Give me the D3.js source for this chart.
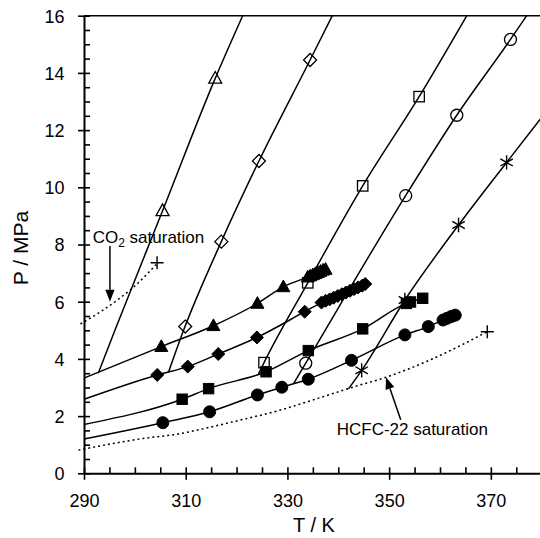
<!DOCTYPE html>
<html><head><meta charset="utf-8">
<script src="https://cdn.jsdelivr.net/npm/d3@7"></script>
<style>body{margin:0;background:#fff}</style>
</head><body>
<svg id="c" width="540" height="538"></svg>
<script>
// ---------- data (T / K, P / MPa) ----------
const xTicks = [290, 310, 330, 350, 370];
const xMinor = [295,300,305,315,320,325,335,340,345,355,360,365,375];
const yTicks = [0, 2, 4, 6, 8, 10, 12, 14, 16];
const yMinor = [0.5,1,1.5,2.5,3,3.5,4.5,5,5.5,6.5,7,7.5,8.5,9,9.5,10.5,11,11.5,12.5,13,13.5,14.5,15,15.5];

// steep (isochoric) lines and open markers
const openTriLine = [[292.8,3.50],[296.1,5.01],[305.45,9.18],[315.8,13.81],[321.2,16]];
const openTriPts  = [[305.45,9.18],[315.8,13.81]];
const openDiaLine = [[306.6,3.53],[309.6,5.01],[317.0,8.10],[324.4,10.92],[334.46,14.45],[338.83,16]];
const openDiaPts  = [[309.9,5.13],[317.0,8.10],[324.4,10.92],[334.46,14.45]];
const openSqLine  = [[324.3,3.47],[325.4,3.87],[334.0,6.66],[344.8,10.05],[355.9,13.17],[365.26,16]];
const openSqPts   = [[325.4,3.87],[334.0,6.66],[344.8,10.05],[355.9,13.17]];
const openCirLine = [[331.2,3.13],[333.6,3.85],[353.25,9.71],[363.3,12.52],[373.86,15.17],[377.06,16]];
const openCirPts  = [[333.6,3.85],[353.25,9.71],[363.3,12.52],[373.86,15.17]];
const starLine    = [[342.0,2.95],[344.6,3.60],[353.1,6.06],[363.65,8.68],[373.1,10.87],[382,12.9]];
const starPts     = [[344.6,3.60],[353.1,6.06],[363.65,8.68],[373.1,10.87]];

// flatter lines and filled markers
const fTriLine = [[290,3.33],[305.2,4.43],[315.45,5.16],[324.1,5.94],[329.2,6.52],[334.0,6.86],[337.5,7.13]];
const fTriPts  = [[305.2,4.43],[315.45,5.16],[324.1,5.94],[329.2,6.52],[334.0,6.86],[334.5,6.90],[335.0,6.94],[335.5,6.98],[336.0,7.02],[336.5,7.06],[337.0,7.10],[337.5,7.13]];
const fDiaLine = [[290,2.59],[304.4,3.44],[310.4,3.73],[316.4,4.17],[324.0,4.75],[333.4,5.65],[336.7,5.97],[345.3,6.62]];
const fDiaPts  = [[304.4,3.44],[310.4,3.73],[316.4,4.17],[324.0,4.75],[333.4,5.65],[336.7,5.97],[337.5,6.03],[338.3,6.08],[339.1,6.14],[339.9,6.20],[340.7,6.26],[341.5,6.32],[342.3,6.38],[343.1,6.44],[343.9,6.50],[344.7,6.56],[345.3,6.62]];
const fSqLine  = [[290,1.71],[309.3,2.59],[314.5,2.96],[325.8,3.55],[334.1,4.29],[344.8,5.05],[353.4,5.94],[354.2,5.99],[356.6,6.12]];
const fSqPts   = [[309.3,2.59],[314.5,2.96],[325.8,3.55],[334.1,4.29],[344.8,5.05],[353.4,5.94],[354.2,5.99],[356.6,6.12]];
const fCirLine = [[290,1.20],[305.5,1.77],[314.7,2.15],[324.1,2.74],[328.9,3.01],[334.1,3.29],[342.6,3.95],[353.1,4.84],[357.7,5.13],[360.6,5.36],[363.0,5.53]];
const fCirPts  = [[305.5,1.77],[314.7,2.15],[324.1,2.74],[328.9,3.01],[334.1,3.29],[342.6,3.95],[353.1,4.84],[357.7,5.13],[360.6,5.36],[361.4,5.42],[362.2,5.48],[363.0,5.53]];

// saturation curves (dotted)
const hcfcSat = [[288.9,0.81],[301,1.20],[309,1.39],[313,1.54],[320,1.83],[328.6,2.21],[336,2.62],[344.3,3.09],[348.2,3.29],[358,3.96],[369.3,4.95]];
const hcfcEnd = [369.3,4.95];
const co2Sat  = [[289.3,5.22],[293,5.62],[296.5,6.05],[300,6.55],[304.2,7.30]];
const co2End  = [304.37,7.36];

// annotation arrows [tail, tip]
const co2Arrow  = [[295.1,7.95],[295.1,6.00]];
const hcfcArrow = [[352.28,1.87],[349.39,3.36]];

// ---------- drawing ----------
const svg = d3.select("#c");
const FONT = "'Liberation Sans', Arial, Helvetica, sans-serif";
const x = d3.scaleLinear().domain([290, 380]).range([84, 541.7]);
const y = d3.scaleLinear().domain([0, 16]).range([473.3, 15.7]);

svg.append("defs").append("clipPath").attr("id","clip")
  .append("rect").attr("x",0).attr("y",y(16)).attr("width",541.7).attr("height",y(0)-y(16));

// top border
svg.append("line").attr("x1",x(290)).attr("x2",x(380)).attr("y1",y(16)).attr("y2",y(16))
  .attr("stroke","#000").attr("stroke-width",1.5);

// x axis
const gx = svg.append("g").attr("transform",`translate(0,${y(0)})`);
gx.call(d3.axisBottom(x).tickValues(xTicks).tickSizeInner(6.5).tickSizeOuter(0).tickPadding(0));
gx.append("g").call(d3.axisBottom(x).tickValues(xTicks.concat(xMinor)).tickSizeInner(-6).tickSizeOuter(0).tickFormat(""))
  .select(".domain").remove();
gx.selectAll(".domain").attr("stroke-width",2);
gx.selectAll(".tick line").attr("stroke-width",1.6);
gx.selectAll("text").attr("y",33.4).attr("dy",0).attr("font-size",18).attr("font-family",FONT).attr("fill","#000");

// y axis
const gy = svg.append("g").attr("transform",`translate(${x(290)},0)`);
gy.call(d3.axisLeft(y).tickValues(yTicks).tickSizeInner(6).tickSizeOuter(0).tickPadding(0));
gy.append("g").call(d3.axisLeft(y).tickValues(yTicks.concat(yMinor)).tickSizeInner(-6).tickSizeOuter(0).tickFormat(""))
  .select(".domain").remove();
gy.selectAll(".domain").attr("stroke-width",2);
gy.selectAll(".tick line").attr("stroke-width",1.6);
gy.selectAll("text").attr("x",-19.5).attr("dy","0.35em").attr("font-size",18).attr("font-family",FONT).attr("fill","#000");

// axis titles
svg.append("text").attr("x",314).attr("y",532).attr("text-anchor","middle")
  .attr("font-size",20).attr("font-family",FONT).text("T / K");
svg.append("text").attr("transform","translate(28,248) rotate(-90)").attr("text-anchor","middle")
  .attr("font-size",21).attr("font-family",FONT).text("P / MPa");

const line = d3.line().x(d=>x(d[0])).y(d=>y(d[1])).curve(d3.curveMonotoneX);
const plot = svg.append("g").attr("clip-path","url(#clip)");

[openTriLine, openDiaLine, openSqLine, openCirLine, starLine, fTriLine, fDiaLine, fSqLine, fCirLine]
  .forEach(l => plot.append("path").attr("d", line(l)).attr("fill","none").attr("stroke","#000").attr("stroke-width",1.5));

// dotted saturation curves (not clipped on the left)
[hcfcSat, co2Sat].forEach(l => svg.append("path").attr("d", line(l)).attr("fill","none")
  .attr("stroke","#000").attr("stroke-width",1.5).attr("stroke-dasharray","2,3"));

// marker helpers
const mk = svg.append("g");
function tri(d, filled){
  const cx=x(d[0]), cy=y(d[1]), h=6.5;
  mk.append("path").attr("d",`M${cx},${cy-h*1.05}L${cx+h},${cy+h*0.75}L${cx-h},${cy+h*0.75}Z`)
    .attr("fill",filled?"#000":"none").attr("stroke","#000").attr("stroke-width",filled?1:1.3);
}
function dia(d, filled){
  const cx=x(d[0]), cy=y(d[1]), h=6.5;
  mk.append("path").attr("d",`M${cx},${cy-h}L${cx+h},${cy}L${cx},${cy+h}L${cx-h},${cy}Z`)
    .attr("fill",filled?"#000":"none").attr("stroke","#000").attr("stroke-width",filled?1:1.3);
}
function sq(d, filled){
  const cx=x(d[0]), cy=y(d[1]), h=5.2;
  mk.append("rect").attr("x",cx-h).attr("y",cy-h).attr("width",2*h).attr("height",2*h)
    .attr("fill",filled?"#000":"none").attr("stroke","#000").attr("stroke-width",filled?1:1.3);
}
function cir(d, filled){
  mk.append("circle").attr("cx",x(d[0])).attr("cy",y(d[1])).attr("r",6)
    .attr("fill",filled?"#000":"none").attr("stroke","#000").attr("stroke-width",filled?1:1.3);
}
function star(d){
  const cx=x(d[0]), cy=y(d[1]), r=7.2;
  let p="";
  [90,30,150].forEach(a=>{const t=a*Math.PI/180, dx=r*Math.cos(t), dy=r*Math.sin(t);
    p+=`M${cx-dx},${cy-dy}L${cx+dx},${cy+dy}`;});
  mk.append("path").attr("d",p).attr("stroke","#000").attr("stroke-width",1.4).attr("fill","none");
}
function plus(d){
  const cx=x(d[0]), cy=y(d[1]), r=6.5;
  mk.append("path").attr("d",`M${cx-r},${cy}L${cx+r},${cy}M${cx},${cy-r}L${cx},${cy+r}`)
    .attr("stroke","#000").attr("stroke-width",1.4);
}
openTriPts.forEach(d=>tri(d,false));
openDiaPts.forEach(d=>dia(d,false));
openSqPts.forEach(d=>sq(d,false));
openCirPts.forEach(d=>cir(d,false));
starPts.forEach(star);
fTriPts.forEach(d=>tri(d,true));
fDiaPts.forEach(d=>dia(d,true));
fSqPts.forEach(d=>sq(d,true));
fCirPts.forEach(d=>cir(d,true));
plus(hcfcEnd); plus(co2End);

// arrows
function arrow(a){
  const x0=x(a[0][0]), y0=y(a[0][1]), x1=x(a[1][0]), y1=y(a[1][1]);
  const L=Math.hypot(x1-x0,y1-y0), ux=(x1-x0)/L, uy=(y1-y0)/L, hl=12, hw=4.6;
  const bx=x1-ux*hl, by=y1-uy*hl;
  svg.append("line").attr("x1",x0).attr("y1",y0).attr("x2",bx).attr("y2",by).attr("stroke","#000").attr("stroke-width",1.5);
  svg.append("path").attr("d",`M${x1},${y1}L${bx-uy*hw},${by+ux*hw}L${bx+uy*hw},${by-ux*hw}Z`).attr("fill","#000");
}
arrow(co2Arrow); arrow(hcfcArrow);

// annotation texts
const t1 = svg.append("text").attr("x",92.7).attr("y",242.5).attr("font-size",17).attr("font-family",FONT);
t1.append("tspan").text("CO");
t1.append("tspan").attr("font-size",12).attr("dy",4).text("2");
t1.append("tspan").attr("dy",-4).text(" saturation");
svg.append("text").attr("x",336.7).attr("y",435).attr("font-size",17).attr("font-family",FONT).text("HCFC-22 saturation");
</script>
</body></html>
